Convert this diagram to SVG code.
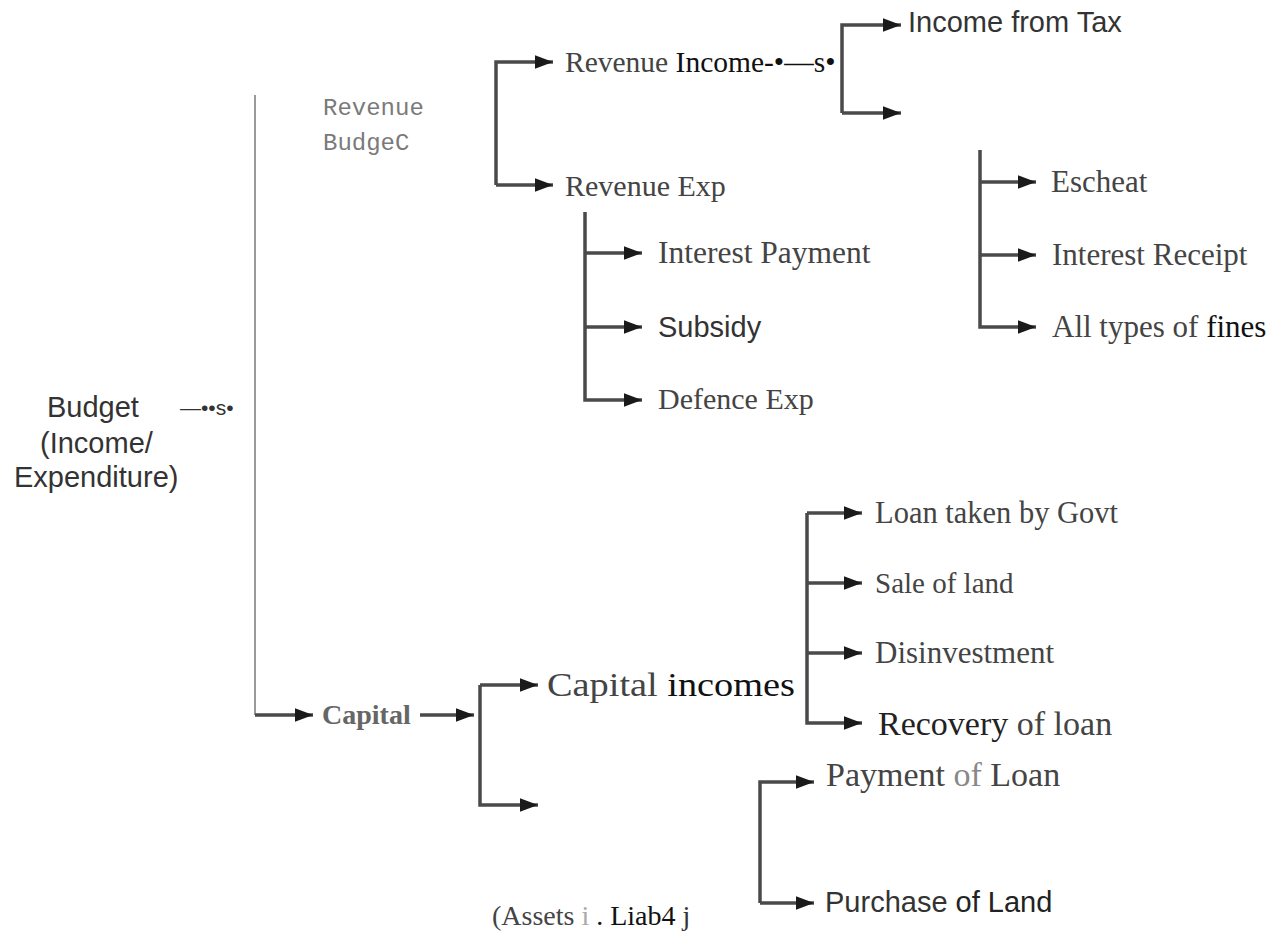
<svg xmlns="http://www.w3.org/2000/svg" width="1274" height="938" viewBox="0 0 1274 938">
<defs>
<marker id="ah" viewBox="0 0 10 10" refX="10" refY="5" markerWidth="5.2" markerHeight="5.2" markerUnits="strokeWidth" orient="auto">
<path d="M0,1.3 L10,5 L0,8.7 z" fill="#1a1a1a"/>
</marker>
<style>
.a{fill:none;stroke:#4a4a4a;stroke-width:3.5;marker-end:url(#ah)}
.thin{fill:none;stroke:#808080;stroke-width:1.6}
.serif{font-family:"Liberation Serif","Times New Roman",serif;font-size:30px;fill:#444}
.sans{font-family:"Liberation Sans",Arial,sans-serif;font-size:29px;fill:#333}
.mono{font-family:"Liberation Mono","Courier New",monospace;font-size:24px;fill:#7a7a7a}
.blk{fill:#111}
</style>
</defs>
<rect width="1274" height="938" fill="#fff"/>
<g id="connectors">
<path class="thin" d="M255,95 V715"/>
<path class="a" d="M255,715 H313"/>
<path class="a" d="M420,715 H474"/>
<path class="a" d="M480,685 V805 H538"/>
<path class="a" d="M480,685 H538"/>
<path class="a" d="M496,185 V62 H553"/>
<path class="a" d="M496,185 H553"/>
<path class="a" d="M842,113 V25 H901"/>
<path class="a" d="M842,113 H901"/>
<path class="a" d="M585,212 V400 H642"/>
<path class="a" d="M585,253 H642"/>
<path class="a" d="M585,327 H642"/>
<path class="a" d="M980,150 V327 H1036"/>
<path class="a" d="M980,182 H1036"/>
<path class="a" d="M980,255 H1036"/>
<path class="a" d="M807,513 V723 H862"/>
<path class="a" d="M807,513 H862"/>
<path class="a" d="M807,583 H862"/>
<path class="a" d="M807,653 H862"/>
<path class="a" d="M760,903 V782 H814"/>
<path class="a" d="M760,903 H814"/>
</g>
<g id="budget">
<text class="sans" x="47" y="417">Budget</text>
<text class="sans" x="180" y="415" style="font-size:21px">—••s•</text>
<text class="sans" x="40" y="453">(Income/</text>
<text class="sans" x="14" y="487">Expenditure)</text>
</g>
<g id="revenue-budget">
<text class="mono" x="323" y="115">Revenue</text>
<text class="mono" x="323" y="150">BudgeC</text>
</g>
<g id="revenue-income">
<text class="serif" x="565" y="72" style="font-size:29.5px">Revenue <tspan class="blk">Income-•—s•</tspan></text>
</g>
<g id="income-tax"><text class="sans" x="908" y="32">Income from Tax</text></g>
<g id="revenue-exp"><text class="serif" x="565" y="196">Revenue Exp</text></g>
<g id="interest-payment"><text class="serif" x="658" y="263" style="font-size:31.5px">Interest Payment</text></g>
<g id="subsidy"><text class="sans" x="658" y="337">Subsidy</text></g>
<g id="defence"><text class="serif" x="658" y="409">Defence Exp</text></g>
<g id="escheat"><text class="serif" x="1051" y="192" style="font-size:31px">Escheat</text></g>
<g id="interest-receipt"><text class="serif" x="1052" y="265" style="font-size:31px">Interest Receipt</text></g>
<g id="fines"><text class="serif" x="1052" y="337" style="font-size:31px">All types of <tspan class="blk">fines</tspan></text></g>
<g id="capital"><text x="322" y="724" font-family="'Liberation Serif',serif" font-weight="bold" font-size="28" fill="#666">Capital</text></g>
<g id="capital-incomes"><text class="serif" x="547" y="696" style="font-size:33px" textLength="248" lengthAdjust="spacingAndGlyphs">Capital <tspan class="blk">incomes</tspan></text></g>
<g id="loan-govt"><text class="serif" x="875" y="523" style="font-size:30.5px">Loan taken by Govt</text></g>
<g id="sale-land"><text class="serif" x="875" y="593" style="font-size:29px">Sale of land</text></g>
<g id="disinvestment"><text class="serif" x="875" y="663" style="font-size:31px">Disinvestment</text></g>
<g id="recovery"><text class="serif" x="878" y="735" style="font-size:34px"><tspan fill="#222">Recovery</tspan> of loan</text></g>
<g id="payment-loan"><text class="serif" x="826" y="786" style="font-size:34px">Payment <tspan fill="#888">of</tspan> Loan</text></g>
<g id="purchase-land"><text class="sans" x="825" y="912">Purchase <tspan fill="#222">of Land</tspan></text></g>
<g id="assets"><text class="serif" x="492" y="925" style="font-size:28px">(Assets <tspan fill="#aaa">i</tspan> <tspan class="blk">. Liab4</tspan> <tspan fill="#333">j</tspan></text></g>
</svg>
